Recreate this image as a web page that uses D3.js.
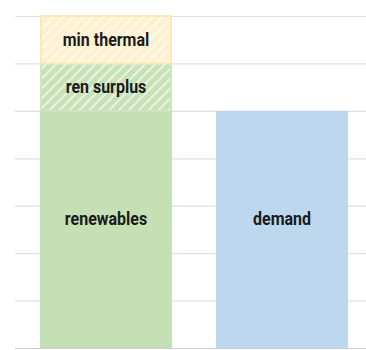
<!DOCTYPE html>
<html>
<head>
  <meta charset="UTF-8">
  <script src="https://d3js.org/d3.v7.min.js"></script>
  <title>Renewables vs demand</title>
  <style>
    body { margin: 0; background: #fff; }
    text { font-family: Roboto, "Liberation Sans", sans-serif; font-weight: bold; }
  </style>
</head>
<body>
  <svg id="chart"></svg>
  <script>
    // chart values
    var categories = ["supply", "demand"];
    var supplyLabels = ["renewables", "ren surplus", "min thermal"];
    var supplyValues = [5, 1, 1];
    var demandLabels = ["demand"];
    var demandValues = [5];
    var gridTicks = [0, 1, 2, 3, 4, 5, 6, 7];

    var width = 366;
    var height = 350;

    var svg = d3.select("#chart")
        .attr("width", width)
        .attr("height", height);

    var defs = svg.append("defs");
    function hatch(id, bg) {
        var p = defs.append("pattern")
            .attr("id", id)
            .attr("patternUnits", "userSpaceOnUse")
            .attr("width", 7)
            .attr("height", 7)
            .attr("patternTransform", "rotate(45)");
        p.append("rect").attr("width", 7).attr("height", 7).attr("fill", bg);
        p.append("rect").attr("width", 2).attr("height", 7).attr("fill", "#ffffff").attr("opacity", 0.6);
    }
    hatch("hatch-yellow", "#fff1cf");
    hatch("hatch-green", "#c8e2b8");

    var y = d3.scaleLinear()
        .domain([0, 7])
        .range([348, 16]);

    var x = d3.scaleBand()
        .domain(categories)
        .range([18, 370])
        .paddingInner(0.25)
        .paddingOuter(0.125);

    // grid
    svg.append("g").selectAll("line")
        .data(gridTicks)
        .enter().append("line")
        .attr("x1", 15)
        .attr("x2", width)
        .attr("y1", function(d) { return y(d) + 0.5; })
        .attr("y2", function(d) { return y(d) + 0.5; })
        .attr("stroke", function(d) { return d == 0 ? "#cfcfcf" : "#e0e0e0"; })
        .attr("stroke-width", 1.2);

    var fills = {
        "renewables": "#c5e0b4",
        "ren surplus": "url(#hatch-green)",
        "min thermal": "url(#hatch-yellow)",
        "demand": "#bdd7ee"
    };
    var strokes = {
        "ren surplus": "#cde6be",
        "min thermal": "#fde9b8"
    };

    function stack(cat, labels, values) {
        var base = 0;
        return labels.map(function(l, i) {
            var seg = { cat: cat, label: l, y0: base, y1: base + values[i] };
            base += values[i];
            return seg;
        });
    }
    var segs = stack("supply", supplyLabels, supplyValues)
        .concat(stack("demand", demandLabels, demandValues));

    var bars = svg.append("g").selectAll("g")
        .data(segs)
        .enter().append("g");

    bars.append("rect")
        .attr("x", function(d) { return x(d.cat) + (strokes[d.label] ? 1 : 0); })
        .attr("y", function(d) { return y(d.y1); })
        .attr("width", function(d) { return x.bandwidth() - (strokes[d.label] ? 2 : 0); })
        .attr("height", function(d) { return y(d.y0) - y(d.y1); })
        .attr("fill", function(d) { return fills[d.label]; })
        .attr("stroke", function(d) { return strokes[d.label] || "none"; })
        .attr("stroke-width", 2);

    bars.append("text")
        .attr("transform", function(d) {
            var cx = x(d.cat) + x.bandwidth() / 2;
            var mid = (y(d.y0) + y(d.y1)) / 2;
            var cy = d.y1 - d.y0 > 2 ? mid - 4 : mid + 6;
            return "translate(" + cx + "," + cy + ") scale(1,1.1)";
        })
        .attr("text-anchor", "middle")
        .attr("font-size", "16px")
        .attr("fill", "#1b1b1b")
        .text(function(d) { return d.label; });
  </script>
</body>
</html>
